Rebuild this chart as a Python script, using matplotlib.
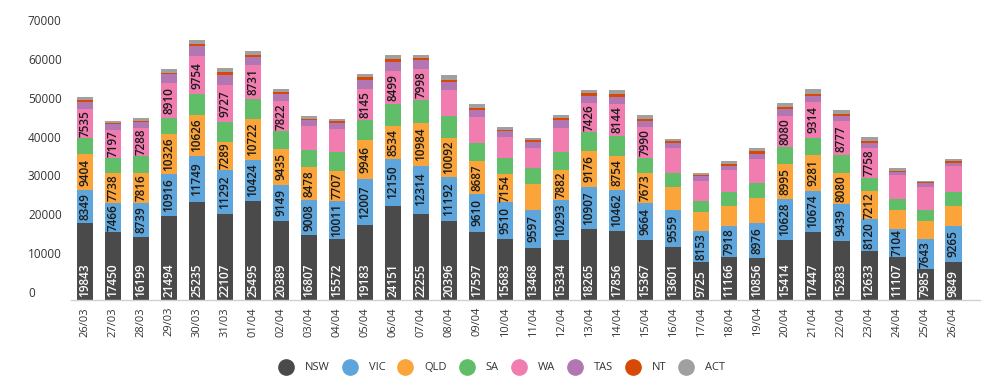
import numpy as np
import matplotlib
matplotlib.use("Agg")
import matplotlib.pyplot as plt
from matplotlib.lines import Line2D

plt.rcParams['font.family'] = ['Open Sans', 'DejaVu Sans']

dates = ["26/03", "27/03", "28/03", "29/03", "30/03", "31/03"] + ["%02d/04" % d for d in range(1, 27)]

NSW = [19843, 17450, 16199, 21494, 25235, 22107, 25495, 20389, 16807, 15572, 19183, 24151, 22255, 20396, 17597, 15683,
       13468, 15334, 18265, 17856, 15367, 13601, 9725, 11166, 10856, 15414, 17447, 15283, 12633, 11107, 7985, 9849]
VIC = [8349, 7466, 8739, 10916, 11749, 11292, 10424, 9149, 9008, 10011, 12007, 12150, 12314, 11192, 9610, 9510,
       9597, 10293, 10907, 10462, 9664, 9559, 8153, 7918, 8976, 10628, 10674, 9439, 8120, 7104, 7643, 9265]
QLD = [9404, 7738, 7816, 10326, 10626, 7289, 10722, 9435, 8478, 7707, 9946, 8534, 10984, 10092, 8687, 7154,
       6700, 7882, 9176, 8754, 7673, 5800, 4800, 5100, 6400, 8995, 9281, 8080, 7212, 4900, 4600, 5000]
SA = [4100, 3900, 4200, 4100, 5400, 5000, 5200, 4400, 4200, 4700, 5100, 5600, 5900, 5700, 4600, 4200,
      4200, 4500, 5000, 5200, 3900, 3850, 2700, 3500, 3800, 4300, 4300, 4400, 3400, 2800, 3000, 3600]
WA = [7535, 7197, 7288, 8910, 9754, 9727, 8731, 7822, 6200, 6000, 8145, 8499, 7998, 6700, 6700, 5400,
      5100, 6200, 7426, 8144, 7990, 6200, 5200, 5800, 6200, 8080, 9314, 8777, 7758, 6200, 5800, 6800]
TAS = [1800, 1500, 1600, 2300, 2600, 2500, 2000, 1800, 1600, 1600, 2300, 2400, 2200, 1900, 1700, 1600,
       1500, 2000, 1800, 1900, 1500, 1500, 1300, 1100, 1400, 1700, 1500, 1300, 1300, 800, 1000, 800]
NT = [400, 400, 300, 400, 600, 700, 500, 500, 400, 400, 800, 600, 500, 600, 600, 300,
      500, 600, 600, 800, 600, 300, 300, 400, 600, 500, 500, 600, 500, 300, 250, 400]
ACT = [900, 500, 800, 1100, 900, 1100, 1000, 900, 700, 700, 800, 1100, 1000, 1200, 1000, 600,
       700, 900, 900, 1000, 1000, 700, 400, 900, 800, 1200, 1200, 900, 900, 700, 400, 700]

series = [("NSW", NSW), ("VIC", VIC), ("QLD", QLD), ("SA", SA),
          ("WA", WA), ("TAS", TAS), ("NT", NT), ("ACT", ACT)]
colors = ["#4a4a4a", "#5da5da", "#faa43a", "#60bd68", "#f17cb0", "#b276b2", "#d64a06", "#a0a0a0"]

fig = plt.figure(figsize=(9.83, 3.89), dpi=100)
ax = fig.add_axes([71/983, 89/389, 909/983, 272/389])

x = np.arange(len(dates))
bottom = np.zeros(len(dates))
for (name, vals), col in zip(series, colors):
    vals = np.array(vals, dtype=float)
    ax.bar(x, vals, bottom=bottom, width=0.6, color=col, linewidth=0)
    # labels only where the segment is tall enough
    for xi, b, v in zip(x, bottom, vals):
        if v < 7000:
            continue
        if name == "NSW":
            # NSW labels sit at the foot of the bar
            ax.text(xi, b + 800, "%d" % v, rotation=90, ha='center', va='bottom',
                    fontsize=8.5, fontweight='semibold', color='white')
        else:
            ax.text(xi, b + v/2, "%d" % v, rotation=90, ha='center', va='center',
                    fontsize=8.5, fontweight='semibold', color='#1a1a1a')
    bottom += vals

ax.set_xlim(-0.5, 31.96)
ax.set_ylim(0, 70000)
ax.set_yticks(range(0, 70001, 10000))
ax.set_yticklabels([str(v) for v in range(0, 70001, 10000)])
ax.tick_params(axis='y', length=0, pad=31, labelsize=8.5, labelcolor='#333333')
for lab in ax.get_yticklabels():
    lab.set_horizontalalignment('left')
    lab.set_verticalalignment('bottom')
ax.set_xticks(x)
ax.set_xticklabels(dates, rotation=90)
ax.tick_params(axis='x', length=0, pad=5, labelsize=8, labelcolor='#333333')

for s in ['top', 'right', 'left']:
    ax.spines[s].set_visible(False)
ax.spines['bottom'].set_color('#d0d0d0')
ax.spines['bottom'].set_linewidth(1)

handles = [Line2D([], [], marker='o', linestyle='none', markersize=11,
                  markerfacecolor=c, markeredgecolor=c) for c in colors]
fig.legend(handles, [n for n, _ in series], loc='center', bbox_to_anchor=(503/983, 1 - 368/389),
           ncol=8, frameon=False, fontsize=8, handlelength=1.0, handletextpad=1.2,
           columnspacing=1.3, labelcolor='#333333')

fig.savefig("out.png", dpi=100)
